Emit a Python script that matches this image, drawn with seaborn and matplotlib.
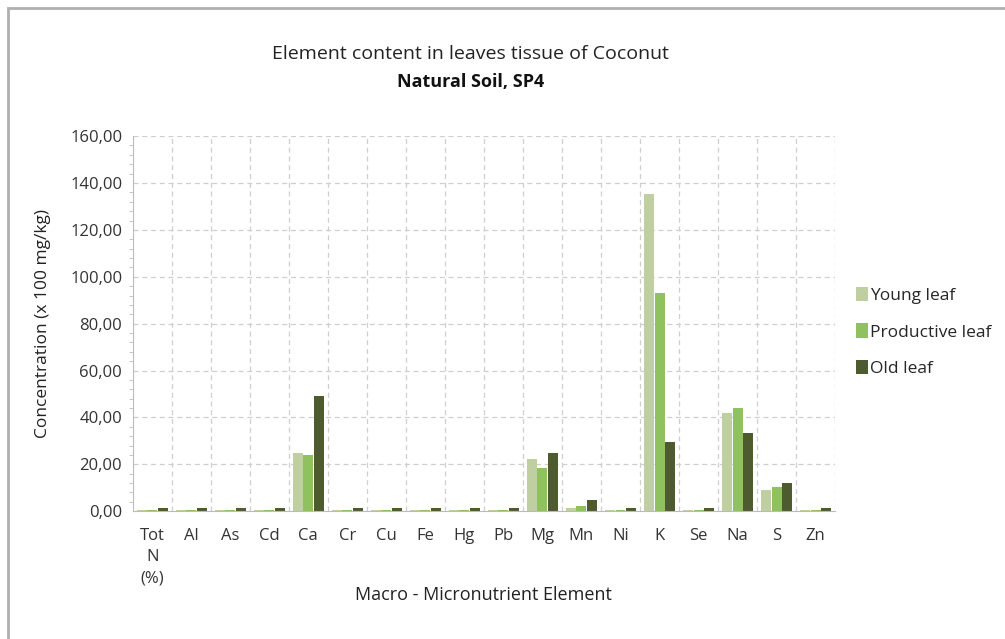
import numpy as np
import pandas as pd
import matplotlib.pyplot as plt
import seaborn as sns
from matplotlib.patches import Rectangle
from matplotlib.ticker import MultipleLocator, FuncFormatter

# values
elements = ['Tot\nN\n(%)', 'Al', 'As', 'Cd', 'Ca', 'Cr', 'Cu', 'Fe', 'Hg', 'Pb',
            'Mg', 'Mn', 'Ni', 'K', 'Se', 'Na', 'S', 'Zn']
young = [0.3, 0.3, 0.3, 0.3, 24.7, 0.3, 0.3, 0.3, 0.3, 0.3,
         22.2, 1.5, 0.3, 135.2, 0.3, 41.8, 9.0, 0.3]
productive = [0.4, 0.4, 0.4, 0.4, 23.9, 0.4, 0.4, 0.4, 0.4, 0.4,
              18.3, 2.2, 0.4, 93.0, 0.4, 43.9, 10.3, 0.4]
old = [1.2, 1.2, 1.2, 1.2, 49.3, 1.2, 1.2, 1.2, 1.2, 1.2,
       24.7, 4.7, 1.2, 29.4, 1.2, 33.3, 11.9, 1.2]
series = ['Young leaf', 'Productive leaf', 'Old leaf']
colors = ['#c2d69a', '#8fd14f', '#4f6228']

df = pd.DataFrame({
    'element': elements * 3,
    'value': young + productive + old,
    'leaf': [s for s in series for _ in elements],
})

sns.set_style('white')
plt.rcParams['font.family'] = ['Open Sans', 'DejaVu Sans']

fig = plt.figure(figsize=(10.05, 6.39), dpi=100)
ax = fig.add_axes([0.132, 0.200, 0.699, 0.587])

sns.barplot(data=df, x='element', y='value', hue='leaf', order=elements,
            hue_order=series, palette=colors, width=0.8, gap=0.04,
            edgecolor='none', ax=ax)

ax.set_xlim(-0.5, len(elements) - 0.5)
ax.set_ylim(0, 160)
ax.yaxis.set_major_locator(MultipleLocator(20))
ax.yaxis.set_minor_locator(MultipleLocator(4))
ax.yaxis.set_major_formatter(FuncFormatter(lambda v, p: f'{v:.2f}'.replace('.', ',')))
ax.set_xticks(np.arange(len(elements)))
ax.set_xticklabels(elements, fontsize=12, color='#333333', va='top', linespacing=1.45)
ax.tick_params(axis='y', labelsize=12, colors='#333333', length=4, which='major')
ax.tick_params(axis='y', which='minor', length=3, color='#bbbbbb', left=True)
ax.tick_params(axis='x', length=0, pad=12)

for yv in range(20, 161, 20):
    ax.axhline(yv, color='#cfcfcf', lw=0.9, ls=(0, (4, 3)), zorder=0)
for xv in np.arange(0.5, len(elements), 1):
    ax.axvline(xv, color='#cfcfcf', lw=0.9, ls=(0, (4, 3)), zorder=0)

for s in ['top', 'right']:
    ax.spines[s].set_visible(False)
ax.spines['left'].set_color('#bbbbbb')
ax.spines['bottom'].set_color('#bbbbbb')

ax.set_xlabel('Macro - Micronutrient Element', fontsize=13, color='#222222')
ax.xaxis.set_label_coords(0.5, -0.2)
ax.set_ylabel('Concentration (x 100 mg/kg)', fontsize=12.5, color='#222222', labelpad=14)

leg = ax.legend(loc='center left', bbox_to_anchor=(1.007, 0.478), frameon=False,
                fontsize=12.5, handlelength=0.7, handleheight=0.9,
                handletextpad=0.15, labelspacing=1.1)

fig.text(0.468, 0.908, 'Element content in leaves tissue of Coconut',
         ha='center', fontsize=14, color='#222222')
fig.text(0.468, 0.864, 'Natural Soil, SP4', ha='center', fontsize=13,
         fontweight='bold', color='#111111')

fig.patches.append(Rectangle((0.008, -0.01), 0.995, 0.998, transform=fig.transFigure,
                             fill=False, edgecolor='#b0b0b0', lw=2))

fig.savefig('out.png', dpi=100)
